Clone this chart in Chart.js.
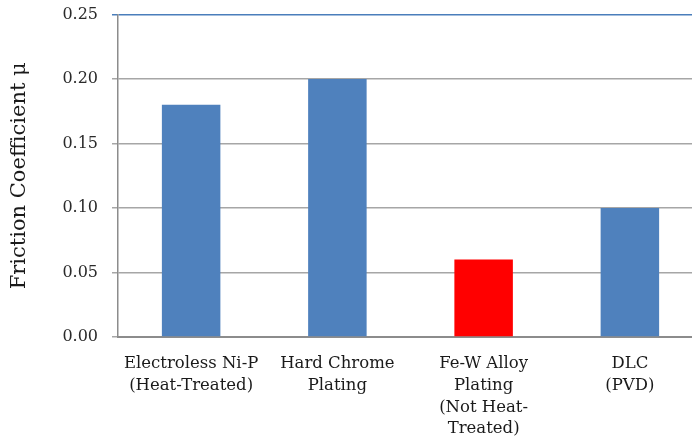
<!DOCTYPE html>
<html>
<head>
<meta charset="utf-8">
<script src="https://cdn.jsdelivr.net/npm/chart.js@4/dist/chart.umd.min.js"></script>
<style>
  html, body { margin: 0; padding: 0; background: #fff; overflow: hidden; }
  /* canvas sits a little above the window so the plot top lands at y=14 */
  #wrap { position: absolute; left: 0; top: -9px; width: 720px; height: 447px; }
</style>
</head>
<body>
<div id="wrap"><canvas id="chart" width="720" height="447"></canvas></div>
<script>
// chart data
const categories = [
    ['Electroless Ni-P', '(Heat-Treated)'],
    ['Hard Chrome', 'Plating'],
    ['Fe-W Alloy', 'Plating', '(Not Heat-', 'Treated)'],
    ['DLC', '(PVD)']
];
const frictionValues = [0.18, 0.20, 0.06, 0.10];
const barColors = ['#4f81bd', '#4f81bd', '#ff0000', '#4f81bd'];
const yTicks = [0, 0.05, 0.10, 0.15, 0.20, 0.25];

const serif = 'DejaVu Serif';

const ctx = document.getElementById('chart').getContext('2d');
new Chart(ctx, {
    type: 'bar',
    data: {
        labels: categories,
        datasets: [{
            data: frictionValues,
            backgroundColor: barColors,
            borderWidth: 0,
            barPercentage: 0.4,
            categoryPercentage: 1.0
        }]
    },
    options: {
        responsive: false,
        animation: false,
        layout: { padding: { top: 6, right: 17, left: 0, bottom: 0 } },
        plugins: {
            legend: { display: false },
            tooltip: { enabled: false }
        },
        scales: {
            x: {
                grid: { display: false, drawTicks: false },
                border: { display: true, color: '#8c8c8c', width: 2 },
                ticks: {
                    color: '#1a1a1a',
                    font: { family: serif, size: 16.5, lineHeight: 1.315 },
                    padding: 16,
                    maxRotation: 0,
                    autoSkip: false
                },
                afterFit: (scale) => { scale.height = 101; }
            },
            y: {
                min: 0,
                max: 0.25,
                afterBuildTicks: (scale) => {
                    scale.ticks = yTicks.map(v => ({ value: v }));
                },
                grid: {
                    color: (c) => c.tick && c.tick.value === 0.25 ? '#4a7ebb' : '#a6a6a6',
                    lineWidth: 1.5,
                    tickLength: 6
                },
                border: { display: true, color: '#8c8c8c', width: 1.5 },
                ticks: {
                    color: '#2a2a2a',
                    font: { family: serif, size: 16 },
                    padding: 14,
                    callback: (v) => Number(v).toFixed(2)
                },
                title: {
                    display: true,
                    text: 'Friction Coefficient μ',
                    color: '#1a1a1a',
                    font: { family: serif, size: 21 },
                    padding: { top: 7, bottom: 0 }
                },
                afterFit: (scale) => { scale.width = 118; }
            }
        }
    }
});
</script>
</body>
</html>
